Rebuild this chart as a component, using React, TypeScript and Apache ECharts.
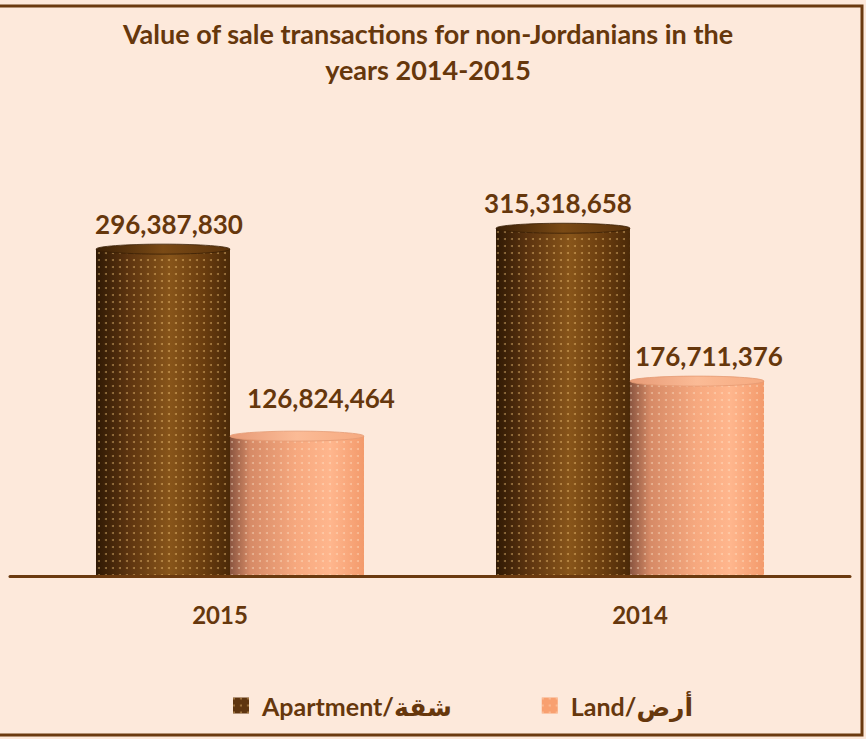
import React, { useEffect, useRef } from "react";
import * as echarts from "echarts";

const categories = ["2015", "2014"];
const seriesNames = ["Apartment/شقة", "Land/أرض"];
const apartmentValues = [296387830, 315318658];
const landValues = [126824464, 176711376];

const TEXT = "#66370c";
const FONT = "Lato, 'DejaVu Sans', sans-serif";
const BW = 134;

export default function App() {
  const ref = useRef<HTMLDivElement>(null);
  useEffect(() => {
    document.body.style.margin = "0";
    const chart = echarts.init(ref.current!, null, { renderer: "svg" });
    const aptGrad = new echarts.graphic.LinearGradient(0, 0, 1, 0, [
      { offset: 0, color: "#2f1904" },
      { offset: 0.25, color: "#5e3510" },
      { offset: 0.55, color: "#88551a" },
      { offset: 0.8, color: "#6a3d0f" },
      { offset: 1, color: "#4a2908" },
    ]);
    const landGrad = new echarts.graphic.LinearGradient(0, 0, 1, 0, [
      { offset: 0, color: "#8a5540" },
      { offset: 0.15, color: "#d68a66" },
      { offset: 0.5, color: "#f7a97f" },
      { offset: 0.75, color: "#ffb68d" },
      { offset: 1, color: "#f39a6b" },
    ]);
    const aptTop = new echarts.graphic.LinearGradient(0, 0, 1, 0, [
      { offset: 0, color: "#3b2006" },
      { offset: 0.5, color: "#7a4a15" },
      { offset: 1, color: "#5a330c" },
    ]);
    const landTop = new echarts.graphic.LinearGradient(0, 0, 1, 0, [
      { offset: 0, color: "#e79a76" },
      { offset: 0.5, color: "#fbbb96" },
      { offset: 1, color: "#f6aa80" },
    ]);
    const aptNudge = [[6, 0], [-5, 0]];
    const landNudge = [[24, -13], [12, 0]];
    const labelBase = {
      show: true,
      position: "top",
      distance: 12,
      color: TEXT,
      fontFamily: FONT,
      fontWeight: "bold",
      fontSize: 26,
      formatter: (p: any) => Number(p.value).toLocaleString("en-US"),
    };
    const cap = (side: number, fill: any, stroke: string, atBase: boolean) =>
      (params: any, api: any) => {
        const i = api.value(0);
        const v = api.value(1);
        const p = api.coord([i, atBase ? 0 : v]);
        const cx = p[0] + side * BW / 2;
        return {
          type: "ellipse",
          shape: { cx, cy: atBase ? p[1] - 3 : p[1], rx: BW / 2, ry: 5 },
          style: { fill, stroke, lineWidth: atBase ? 0 : 0.8 },
        };
      };
    const option: any = {
      animation: false,
      backgroundColor: "#FDE9DB",
      title: {
        text: "Value of sale transactions for non-Jordanians in the\nyears 2014-2015",
        left: 423,
        textAlign: "center",
        top: 10,
        textStyle: {
          color: TEXT,
          fontFamily: FONT,
          fontWeight: "bold",
          fontSize: 27,
          lineHeight: 36,
        },
      },
      legend: {
        left: 228,
        top: 688,
        icon: "rect",
        itemWidth: 16,
        itemHeight: 16,
        itemGap: 90,
        textStyle: {
          color: TEXT,
          fontFamily: FONT,
          fontWeight: "bold",
          fontSize: 25,
          padding: [0, 0, 0, 8],
        },
        data: [
          { name: seriesNames[0], itemStyle: { color: "#5e3510" } },
          { name: seriesNames[1], itemStyle: { color: "#f8a070" } },
        ],
      },
      grid: [
        { left: 30, right: 36, top: 190, bottom: 163 },
        { left: 10, right: 16, top: 190, bottom: 163 },
      ],
      xAxis: [
        { type: "category", gridIndex: 0, data: categories, show: false },
        {
          type: "category",
          gridIndex: 1,
          data: categories,
          z: 10,
          axisLine: { lineStyle: { color: "#6b3a0f", width: 3 } },
          axisTick: { show: false },
          axisLabel: {
            margin: 26,
            color: TEXT,
            fontFamily: FONT,
            fontWeight: "bold",
            fontSize: 24,
          },
        },
      ],
      yAxis: [
        { type: "value", gridIndex: 0, min: 0, max: 350000000, show: false },
        { type: "value", gridIndex: 1, min: 0, max: 350000000, show: false },
      ],
      series: [
        {
          type: "custom",
          xAxisIndex: 0,
          yAxisIndex: 0,
          z: 1,
          silent: true,
          clip: false,
          data: apartmentValues.map((v, i) => [i, v]),
          renderItem: cap(-1, aptGrad, "none", true),
        },
        {
          type: "custom",
          xAxisIndex: 0,
          yAxisIndex: 0,
          z: 1,
          silent: true,
          clip: false,
          data: landValues.map((v, i) => [i, v]),
          renderItem: cap(1, landGrad, "none", true),
        },
        {
          name: seriesNames[0],
          type: "bar",
          xAxisIndex: 0,
          yAxisIndex: 0,
          z: 2,
          barWidth: BW,
          barGap: "0%",
          itemStyle: {
            color: aptGrad,
            decal: {
              symbol: "circle",
              symbolSize: 1,
              color: "rgba(255,210,130,0.45)",
              dashArrayX: [1.6, 4.4],
              dashArrayY: [1.6, 4.4],
            },
          },
          label: labelBase,
          data: apartmentValues.map((v, i) => ({ value: v, label: { offset: aptNudge[i] } })),
        },
        {
          name: seriesNames[1],
          type: "bar",
          xAxisIndex: 0,
          yAxisIndex: 0,
          z: 2,
          barWidth: BW,
          barGap: "0%",
          itemStyle: {
            color: landGrad,
            decal: {
              symbol: "circle",
              symbolSize: 1,
              color: "rgba(255,230,205,0.45)",
              dashArrayX: [1.6, 4.4],
              dashArrayY: [1.6, 4.4],
            },
          },
          label: labelBase,
          data: landValues.map((v, i) => ({ value: v, label: { offset: landNudge[i] } })),
        },
        {
          type: "custom",
          xAxisIndex: 0,
          yAxisIndex: 0,
          z: 3,
          silent: true,
          clip: false,
          data: apartmentValues.map((v, i) => [i, v]),
          renderItem: cap(-1, aptTop, "#3a1f05", false),
        },
        {
          type: "custom",
          xAxisIndex: 0,
          yAxisIndex: 0,
          z: 3,
          silent: true,
          clip: false,
          data: landValues.map((v, i) => [i, v]),
          renderItem: cap(1, landTop, "#e59a74", false),
        },
      ],
      graphic: [
        {
          type: "rect",
          shape: { x: -5, y: 6, width: 867, height: 729 },
          style: { fill: "none", stroke: "#6b3a0f", lineWidth: 3 },
          z: 100,
          silent: true,
        },
      ],
    };
    chart.setOption(option);
    return () => chart.dispose();
  }, []);
  return <div ref={ref} style={{ width: 866, height: 739 }} />;
}
